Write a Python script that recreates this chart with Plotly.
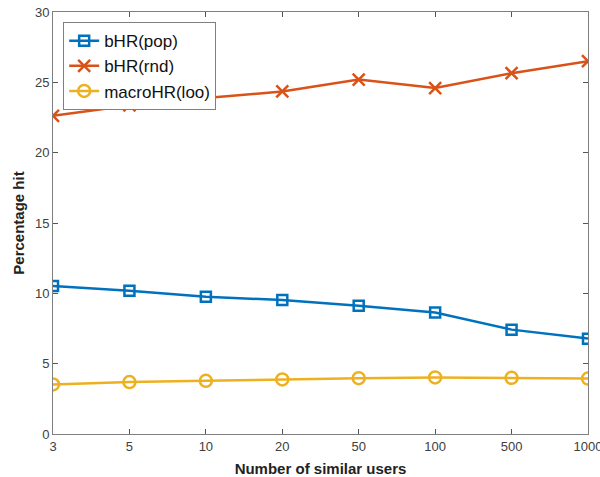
import plotly.graph_objects as go

categories = ["3", "5", "10", "20", "50", "100", "500", "1000"]
bhr_pop = [10.52, 10.19, 9.76, 9.52, 9.12, 8.63, 7.42, 6.78]
bhr_rnd = [22.62, 23.36, 23.88, 24.35, 25.2, 24.59, 25.65, 26.5]
macro_loo = [3.52, 3.69, 3.78, 3.88, 3.97, 4.02, 3.99, 3.94]
y_ticks = [0, 5, 10, 15, 20, 25, 30]

fig = go.Figure()
fig.add_trace(go.Scatter(x=categories, y=bhr_pop, name="bHR(pop)", mode="lines+markers",
                         line=dict(color="#0072BD", width=2.5),
                         marker=dict(symbol="square-open", size=10, color="#0072BD",
                                     line=dict(width=2.5, color="#0072BD"))))
fig.add_trace(go.Scatter(x=categories, y=bhr_rnd, name="bHR(rnd)", mode="lines+markers",
                         line=dict(color="#D95319", width=2.5),
                         marker=dict(symbol="x-thin-open", size=12, color="#D95319",
                                     line=dict(width=2.5, color="#D95319"))))
fig.add_trace(go.Scatter(x=categories, y=macro_loo, name="macroHR(loo)", mode="lines+markers",
                         line=dict(color="#EDB120", width=2.5),
                         marker=dict(symbol="circle-open", size=12, color="#EDB120",
                                     line=dict(width=2.5, color="#EDB120"))))

font_family = "Liberation Sans, Arial, Helvetica"
axis_common = dict(showline=True, linecolor="#7f7f7f", linewidth=1, mirror="ticks",
                   ticks="inside", ticklen=5, tickcolor="#555555", showgrid=False,
                   zeroline=False, automargin=False,
                   tickfont=dict(family=font_family, size=13, color="#404040"))

fig.update_xaxes(type="category", categoryorder="array", categoryarray=categories,
                 range=[0, len(categories) - 1],
                 title=dict(text="<b>Number of similar users</b>", standoff=11,
                            font=dict(family=font_family, size=15, color="#222222")),
                 **axis_common)
fig.update_yaxes(range=[0, 30], tickvals=y_ticks,
                 title=dict(text="<b>Percentage hit</b>", standoff=6,
                            font=dict(family=font_family, size=15, color="#222222")),
                 **axis_common)

fig.update_layout(
    width=600, height=477,
    margin=dict(l=53, r=12, t=12, b=43),
    plot_bgcolor="white", paper_bgcolor="white",
    showlegend=True,
    legend=dict(x=0.019, y=0.976, xanchor="left", yanchor="top",
                bgcolor="white", bordercolor="#7f7f7f", borderwidth=1,
                font=dict(family=font_family, size=17, color="#111111"),
                tracegroupgap=0, itemwidth=30),
)

fig.write_html("out.html",
               config={"displayModeBar": False},
               post_script="document.body.style.margin='0';document.body.style.overflow='hidden';")
